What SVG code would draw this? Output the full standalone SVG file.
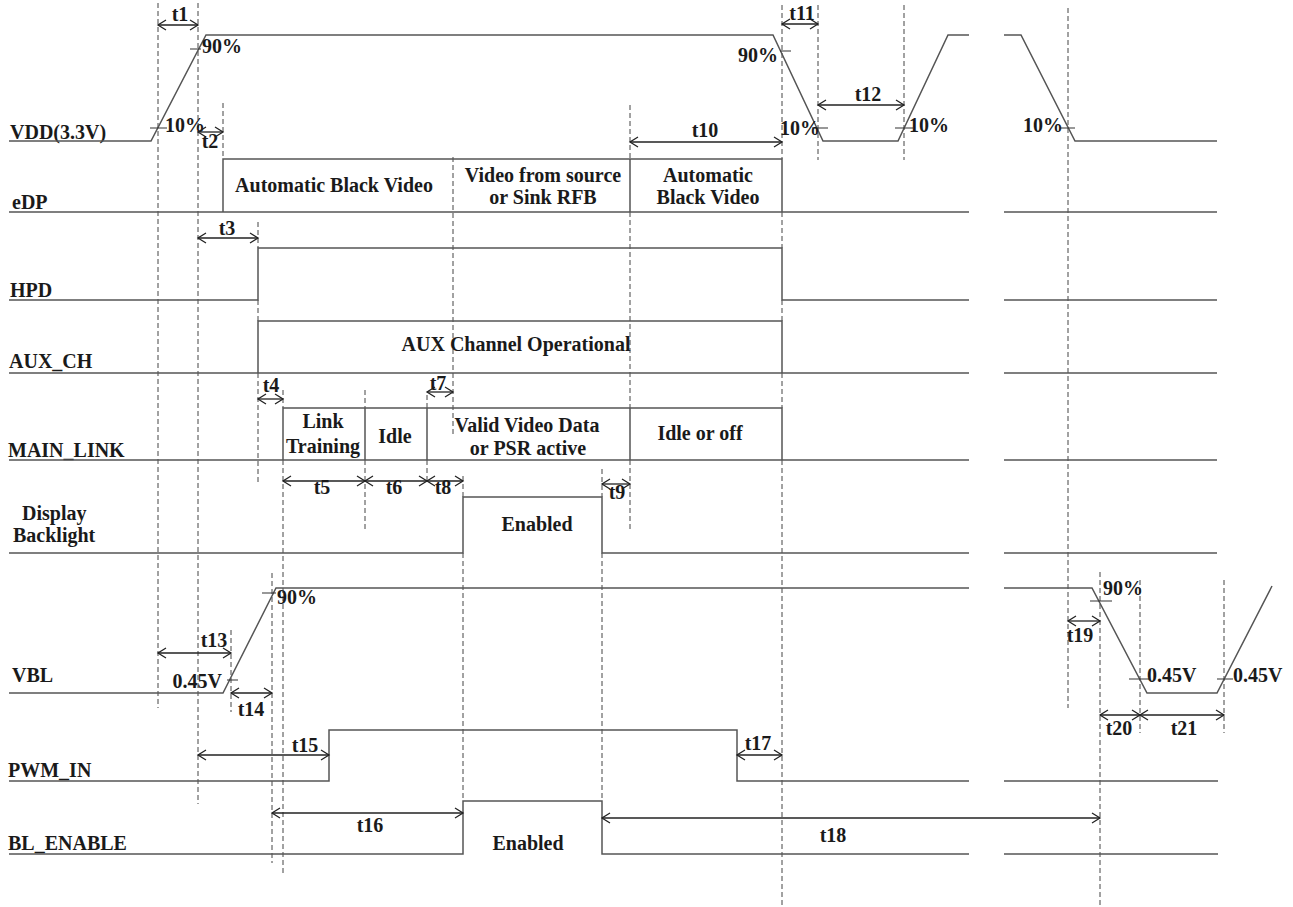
<svg xmlns="http://www.w3.org/2000/svg" width="1293" height="907" viewBox="0 0 1293 907">
<style>
text{font-family:"Liberation Serif","Times New Roman",serif;font-weight:bold;font-size:20px;fill:#1a1a1a}
.m{text-anchor:middle}
.e{text-anchor:end}
.w{fill:none;stroke:#555;stroke-width:1.5}
.d{fill:none;stroke:#444;stroke-width:1;stroke-dasharray:5 3}
.a{fill:none;stroke:#222;stroke-width:1.3;marker-start:url(#ah);marker-end:url(#ah)}
.k{fill:none;stroke:#333;stroke-width:1.2}
</style>
<defs>
<marker id="ah" viewBox="-10 -7 12 14" refX="0" refY="0" markerWidth="12" markerHeight="14" markerUnits="userSpaceOnUse" orient="auto-start-reverse">
<path d="M-8,-5 L0,0 L-8,5" fill="none" stroke="#222" stroke-width="1.3"/>
</marker>
</defs>
<rect width="1293" height="907" fill="#fff"/>

<g id="guides">
<path class="d" d="M158,3V708 M198,3V804 M223,103V159 M258,222V248 M258,300V321 M258,373V482 M283,390V408 M283,460V873 M365,390V408 M365,460V530 M427,395V408 M427,460V481 M453,157V437 M463,476V497 M463,553V801 M602,469V497 M602,553V801 M630,105V159 M630,212V408 M630,460V532 M782,5V159 M782,212V248 M782,300V321 M782,373V408 M782,460V907 M818,5V160 M904,5V160 M1068,8V708 M1100,572V907 M1140,580V733 M1224,580V733 M231,630V712 M272,573V863"/>
</g>

<g id="sig-vdd">
<text x="10" y="139">VDD(3.3V)</text>
<path class="w" d="M9,141H151L206,35H773L823,141H898L948,35H969 M1004,35H1021L1075,141H1217"/>
<path class="k" d="M150,128H167 M190,49H201 M780,51H791 M812,128H828 M895,128H913 M1060,128H1075"/>
<text x="202" y="53">90%</text>
<text x="165" y="132">10%</text>
<text class="e" x="778" y="62">90%</text>
<text x="780" y="135">10%</text>
<text x="909" y="132">10%</text>
<text x="1023" y="132">10%</text>
</g>

<g id="sig-edp">
<text x="12" y="209">eDP</text>
<path class="w" d="M9,212H969 M1004,212H1217 M223,212V159H782V212 M630,159V212"/>
<text class="m" x="334" y="192">Automatic Black Video</text>
<text class="m" x="543" y="182">Video from source</text>
<text class="m" x="543" y="204">or Sink RFB</text>
<text class="m" x="708" y="182">Automatic</text>
<text class="m" x="708" y="204">Black Video</text>
</g>

<g id="sig-hpd">
<text x="10" y="297">HPD</text>
<path class="w" d="M9,300H258V248H782V300H969 M1004,300H1217"/>
</g>

<g id="sig-aux">
<text x="9" y="368">AUX_CH</text>
<path class="w" d="M9,373H969 M1004,373H1217 M258,373V321H782V373"/>
<text class="m" x="516" y="351">AUX Channel Operational</text>
</g>

<g id="sig-mainlink">
<text x="8" y="457">MAIN_LINK</text>
<path class="w" d="M9,460H969 M1004,460H1217 M283,460V408H782V460 M365,408V460 M427,408V460 M630,408V460"/>
<text class="m" x="323" y="428">Link</text>
<text class="m" x="323" y="453">Training</text>
<text class="m" x="395" y="443">Idle</text>
<text class="m" x="527" y="432">Valid Video Data</text>
<text class="m" x="528" y="455">or PSR active</text>
<text class="m" x="700" y="440">Idle or off</text>
</g>

<g id="sig-backlight">
<text x="22" y="520">Display</text>
<text x="13" y="542">Backlight</text>
<path class="w" d="M9,553H463V497H602V553H969 M1004,553H1217"/>
<text class="m" x="537" y="531">Enabled</text>
</g>

<g id="sig-vbl">
<text x="12" y="682">VBL</text>
<path class="w" d="M9,693H223L276,588H969 M1004,588H1092L1147,693H1217L1272,586"/>
<path class="k" d="M262,593H276 M227,680H238 M1090,601H1112 M1129,679H1150 M1217,679H1233"/>
<text x="277" y="604">90%</text>
<text class="e" x="222" y="688">0.45V</text>
<text x="1103" y="595">90%</text>
<text x="1147" y="682">0.45V</text>
<text x="1233" y="682">0.45V</text>
</g>

<g id="sig-pwm">
<text x="8" y="777">PWM_IN</text>
<path class="w" d="M9,781H329V730H737V781H969 M1004,781H1218"/>
</g>

<g id="sig-blen">
<text x="8" y="850">BL_ENABLE</text>
<path class="w" d="M9,854H463V801H602V854H969 M1004,854H1218"/>
<text class="m" x="528" y="850">Enabled</text>
</g>

<g id="connectors">
<path class="a" d="M158,25H198"/><text class="m" x="180" y="21">t1</text>
<path class="a" d="M198,132H223"/><text class="m" x="210" y="148">t2</text>
<path class="a" d="M198,238H258"/><text class="m" x="227" y="235">t3</text>
<path class="a" d="M258,399H283"/><text class="m" x="271" y="392">t4</text>
<path class="a" d="M283,481H365"/><text class="m" x="322" y="494">t5</text>
<path class="a" d="M365,481H427"/><text class="m" x="394" y="494">t6</text>
<path class="a" d="M427,392H453"/><text class="m" x="438" y="390">t7</text>
<path class="a" d="M427,481H463"/><text class="m" x="443" y="494">t8</text>
<path class="a" d="M602,484H630"/><text class="m" x="617" y="499">t9</text>
<path class="a" d="M630,142H782"/><text class="m" x="705" y="137">t10</text>
<path class="a" d="M782,24H818"/><text class="m" x="802" y="20">t11</text>
<path class="a" d="M818,105H904"/><text class="m" x="868" y="101">t12</text>
<path class="a" d="M158,653H231"/><text class="m" x="214" y="647">t13</text>
<path class="a" d="M231,693H272"/><text class="m" x="251" y="716">t14</text>
<path class="a" d="M198,755H329"/><text class="m" x="305" y="752">t15</text>
<path class="a" d="M272,813H463"/><text class="m" x="370" y="832">t16</text>
<path class="a" d="M737,755H782"/><text class="m" x="758" y="750">t17</text>
<path class="a" d="M602,818H1100"/><text class="m" x="833" y="842">t18</text>
<path class="a" d="M1068,621H1100"/><text class="m" x="1080" y="642">t19</text>
<path class="a" d="M1100,715H1140"/><text class="m" x="1119" y="735">t20</text>
<path class="a" d="M1140,715H1224"/><text class="m" x="1184" y="735">t21</text>
</g>
</svg>
